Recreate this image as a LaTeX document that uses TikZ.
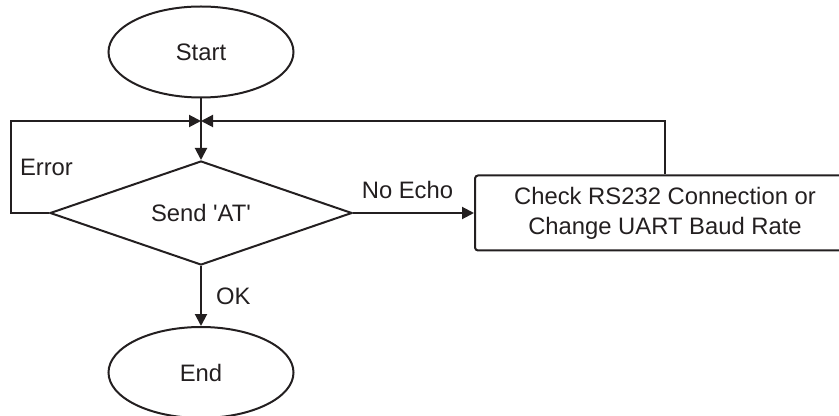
\documentclass[tikz,border=0pt]{standalone}
\usepackage{fontspec}
\setmainfont{Liberation Sans}
\usepackage{xcolor}
\usepackage{tikz}
\usetikzlibrary{shapes,arrows.meta,positioning}
\definecolor{flowink}{HTML}{231F20}
\tikzstyle{startstop} = [ellipse, draw=flowink, line width=1pt, text=flowink,
    minimum width=92.5pt, minimum height=45.5pt, inner sep=0pt]
\tikzstyle{decision} = [diamond, draw=flowink, line width=1pt, text=flowink, aspect=2.9,
    minimum width=151pt, minimum height=52pt, inner sep=0pt]
\tikzstyle{block} = [rectangle, draw=flowink, line width=1pt, rounded corners=1.5pt,
    text=flowink, align=center, minimum width=190pt, minimum height=37.5pt, inner sep=0pt]
\tikzstyle{arrow} = [-{Triangle[length=6pt,width=6pt]}, line width=1pt, flowink]
\tikzstyle{lbl} = [text=flowink, inner sep=4pt]

\begin{document}
\begin{tikzpicture}[x=0.5pt, y=-0.5pt, font=\fontsize{11.9}{15}\selectfont]
\clip (0,0) rectangle (839,416);
\node[startstop] (start) at (201,52) {Start};
\node[decision, below=30.75pt of start] (send) {Send \textquotesingle AT\textquotesingle};
\node[startstop, below=30pt of send] (stop) {End};
\node[block, right=60.5pt of send] (check) {Check RS232 Connection or\\Change UART Baud Rate};
\coordinate (join) at (201,121);
\draw[arrow] (start) -- (send);
\draw[arrow] (send) -- node[lbl, right, xshift=3pt] {OK} (stop);
\draw[arrow] (send) -- node[lbl, above, pos=0.45, yshift=2.5pt] {No Echo} (check);
\draw[arrow] (send.west) -- ++(-19pt,0) |- node[lbl, right, pos=0.25] {Error} (join);
\draw[arrow] (check.north) |- (join);
\end{tikzpicture}
\end{document}
